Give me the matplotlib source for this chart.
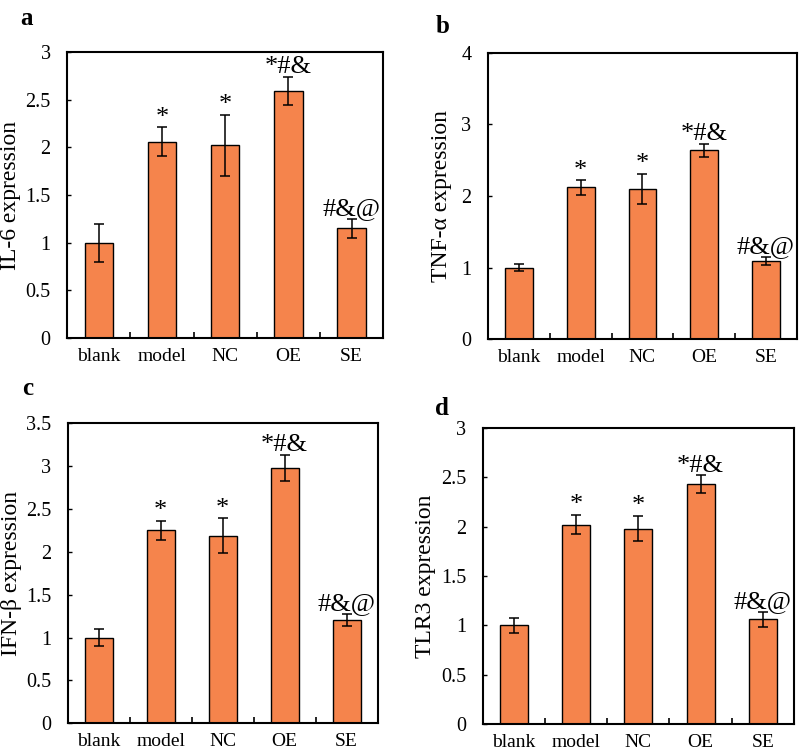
import matplotlib
matplotlib.use("Agg")
import matplotlib.pyplot as plt

plt.rcParams["font.family"] = ["Liberation Serif", "DejaVu Serif"]

groups = ["blank", "model", "NC", "OE", "SE"]
marks = ["", "*", "*", "*#&", "#&@"]

il6 = [1.0, 2.06, 2.02, 2.59, 1.15]
il6_err = [0.20, 0.15, 0.32, 0.15, 0.10]

tnf = [1.0, 2.12, 2.10, 2.64, 1.09]
tnf_err = [0.05, 0.10, 0.21, 0.09, 0.06]

ifn = [1.0, 2.25, 2.19, 2.98, 1.21]
ifn_err = [0.10, 0.11, 0.20, 0.15, 0.07]

tlr3 = [1.0, 2.02, 1.98, 2.43, 1.06]
tlr3_err = [0.08, 0.10, 0.13, 0.09, 0.08]

panels = [
    ("a", il6, il6_err, "IL-6 expression", 3, [0, 0.5, 1, 1.5, 2, 2.5, 3]),
    ("b", tnf, tnf_err, "TNF-α expression", 4, [0, 1, 2, 3, 4]),
    ("c", ifn, ifn_err, "IFN-β expression", 3.5, [0, 0.5, 1, 1.5, 2, 2.5, 3, 3.5]),
    ("d", tlr3, tlr3_err, "TLR3 expression", 3, [0, 0.5, 1, 1.5, 2, 2.5, 3]),
]

boxes = [
    [0.084, 0.5523, 0.395, 0.3788],
    [0.610, 0.5506, 0.386, 0.3796],
    [0.0846, 0.0420, 0.3875, 0.3974],
    [0.6034, 0.0407, 0.389, 0.3928],
]
label_x = [-0.147, -0.115, -0.147, -0.150]
letter_pos = [(0.025, 0.967), (0.544, 0.956), (0.0275, 0.477), (0.544, 0.450)]

bar_color = "#F5844C"

fig = plt.figure(figsize=(8, 7.55), dpi=100)

for (letter, vals, errs, ylab, ymax, yticks), box, lx, lp in zip(panels, boxes, label_x, letter_pos):
    ax = fig.add_axes(box)
    x = range(len(groups))
    ax.bar(x, vals, width=0.45, color=bar_color, edgecolor="black", linewidth=1.0,
           yerr=errs, error_kw=dict(ecolor="black", elinewidth=1.1, capsize=3.5, capthick=1.1))
    for xi, v, e, m in zip(x, vals, errs, marks):
        if m:
            ax.annotate(m, (xi, v + e), xytext=(0, -1), textcoords="offset points",
                        ha="center", va="bottom", fontsize=19)
    ax.set_xlim(-0.5, len(groups) - 0.5)
    ax.set_ylim(0, ymax)
    ax.set_yticks(yticks)
    ax.set_yticklabels([f"{t:g}" for t in yticks])
    ax.set_xticks(list(x))
    ax.set_xticklabels(groups)
    ax.set_xticks([0.5, 1.5, 2.5, 3.5], minor=True)
    ax.tick_params(axis="x", which="major", length=0, pad=7, labelsize=14)
    ax.tick_params(axis="x", which="minor", direction="in", length=4, width=1.2)
    ax.tick_params(axis="y", direction="in", length=3, width=1.0, pad=12, labelsize=14.5)
    ax.set_ylabel(ylab, fontsize=17)
    ax.yaxis.set_label_coords(lx, 0.5)
    for s in ax.spines.values():
        s.set_linewidth(1.5)
    fig.text(lp[0], lp[1], letter, fontsize=18, fontweight="bold", ha="left", va="baseline")

fig.savefig("out.png", dpi=100)
